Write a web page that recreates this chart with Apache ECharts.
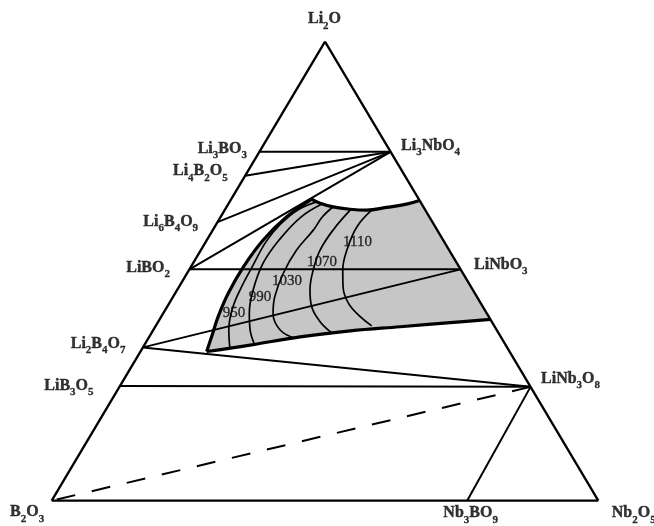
<!DOCTYPE html>
<html>
<head>
<meta charset="utf-8">
<script src="https://cdn.jsdelivr.net/npm/echarts@6/dist/echarts.min.js"></script>
<style>
  html, body { margin: 0; padding: 0; background: #fff; }
  #main { width: 654px; height: 526px; }
</style>
</head>
<body>
<div id="main"></div>
<script>
// compositions in mol%: [name, Li2O, Nb2O5] (rest is B2O3)
var compounds = [
    ['Li2O', 100, 0],
    ['B2O3', 0, 0],
    ['Nb2O5', 0, 100],
    ['Li3BO3', 76, 0],
    ['Li4B2O5', 70.8, 0],
    ['Li6B4O9', 60.7, 0],
    ['LiBO2', 50.4, 0],
    ['Li2B4O7', 33.4, 0],
    ['LiB3O5', 25, 0],
    ['Li3NbO4', 76, 24],
    ['LiNbO3', 50.4, 49.6],
    ['LiNb3O8', 24.8, 75.2],
    ['Nb3BO9', 0, 76]
];

var triangleSides = [['Li2O', 'B2O3'], ['B2O3', 'Nb2O5'], ['Nb2O5', 'Li2O']];

// tie lines between compounds
var tieLines = [
    ['Li3BO3', 'Li3NbO4'],
    ['Li4B2O5', 'Li3NbO4'],
    ['Li6B4O9', 'Li3NbO4'],
    ['LiBO2', 'Li3NbO4'],
    ['LiBO2', 'LiNbO3'],
    ['Li2B4O7', 'LiNbO3'],
    ['Li2B4O7', 'LiNb3O8'],
    ['LiB3O5', 'LiNb3O8'],
    ['LiNb3O8', 'Nb3BO9']
];
var dashedLines = [['LiNb3O8', 'B2O3']];

// LiNbO3 primary field boundary, [Li2O, Nb2O5]
var fieldTop = [[65.7, 14.7], [64.8, 16.7], [64.0, 19.5], [63.5, 22.8], [63.3, 26.0], [63.9, 29.3], [64.6, 32.6], [65.4, 34.6]];
var fieldLeft = [[65.7, 14.7], [61.9, 12.1], [56.8, 10.3], [51.0, 9.6], [45.2, 9.7], [40.1, 10.4], [35.7, 11.4], [32.5, 12.1]];
var fieldBottom = [[32.5, 12.1], [33.9, 19.3], [35.7, 27.6], [37.0, 36.1], [37.9, 44.8], [38.8, 53.5], [39.5, 60.5]];

// isotherms (°C)
var iso950 = [[65.1, 15.9], [63.3, 13.3], [60.2, 11.7], [56.5, 11.0], [51.0, 11.2], [45.9, 11.5], [41.6, 12.2], [37.2, 13.8], [33.2, 16.0]];
var iso990 = [[64.8, 17.3], [61.8, 14.7], [56.8, 13.2], [51.7, 12.8], [45.9, 13.9], [40.9, 15.7], [37.2, 17.7], [33.9, 20.2]];
var iso1030 = [[64.1, 19.5], [61.8, 18.6], [59.0, 18.4], [54.6, 17.5], [49.5, 17.6], [44.4, 18.6], [40.8, 20.1], [37.2, 23.2], [35.4, 26.8]];
var iso1070 = [[63.4, 23.0], [59.0, 22.0], [54.6, 21.8], [50.3, 22.7], [45.9, 24.3], [42.3, 26.4], [39.0, 29.6], [36.6, 32.9]];
var iso1110 = [[63.3, 26.9], [59.7, 26.0], [54.6, 26.7], [50.3, 28.1], [46.6, 30.0], [43.0, 32.8], [40.1, 36.4], [38.1, 39.5]];
var isoLabels = [['950', 40.9, 12.9], ['990', 44.4, 15.9], ['1030', 47.9, 19.1], ['1070', 51.9, 23.5], ['1110', 56.3, 27.8]];

// label placement next to each compound point: [dx, dy, align]
var labelPlace = {
    'Li2O': [0, -22, 'center'],
    'B2O3': [-7, 12, 'right'],
    'Nb2O5': [14, 13, 'left'],
    'Li3BO3': [-12, -3, 'right'],
    'Li4B2O5': [-17, -4, 'right'],
    'Li6B4O9': [-19, 0, 'right'],
    'LiBO2': [-19, -1, 'right'],
    'Li2B4O7': [-17, -3, 'right'],
    'LiB3O5': [-26, 0, 'right'],
    'Li3NbO4': [11, -6, 'left'],
    'LiNbO3': [14, -4, 'left'],
    'LiNb3O8': [11, -8, 'left'],
    'Nb3BO9': [4, 13, 'center']
};

// ternary -> cartesian (x: 0..1 along base, y: Li2O fraction)
function toXY(li, nb) {
    return [nb / 100 + li / 200, li / 100];
}
function conv(list) {
    return list.map(function (p) { return toXY(p[0], p[1]); });
}

var pos = {};
compounds.forEach(function (c) { pos[c[0]] = toXY(c[1], c[2]); });

var FONT = 'Liberation Serif';
var INK = '#000';

function lineSeries(points, width, opts) {
    opts = opts || {};
    return {
        type: 'line',
        data: points,
        symbol: 'none',
        smooth: opts.smooth || false,
        clip: false,
        silent: true,
        z: opts.z || 3,
        lineStyle: { color: INK, width: width, type: opts.type || 'solid' }
    };
}

var series = [];

// shaded field
var outline = conv(fieldTop.concat(fieldBottom.slice().reverse(), fieldLeft.slice().reverse()));
series.push({
    type: 'custom',
    coordinateSystem: 'cartesian2d',
    data: [[0, 0]],
    silent: true,
    z: 1,
    renderItem: function (params, api) {
        return {
            type: 'polygon',
            shape: { points: outline.map(function (p) { return api.coord(p); }) },
            style: { fill: '#c6c6c6' }
        };
    }
});

triangleSides.forEach(function (s) { series.push(lineSeries([pos[s[0]], pos[s[1]]], 2.3)); });
tieLines.forEach(function (s) { series.push(lineSeries([pos[s[0]], pos[s[1]]], 2)); });
dashedLines.forEach(function (s) {
    series.push(lineSeries([pos[s[0]], pos[s[1]]], 2, { type: [19, 17] }));
});

[iso950, iso990, iso1030, iso1070, iso1110].forEach(function (c) {
    series.push(lineSeries(conv(c), 1.7, { smooth: 0.4 }));
});
[fieldTop, fieldLeft, fieldBottom].forEach(function (c) {
    series.push(lineSeries(conv(c), 3.2, { smooth: 0.4, z: 4 }));
});

// compound names with subscripts
function subs(name) {
    return name.replace(/(\d+)/g, '{s|$1}');
}
series.push({
    type: 'scatter',
    symbolSize: 1,
    clip: false,
    silent: true,
    itemStyle: { color: 'rgba(0,0,0,0)' },
    data: compounds.map(function (c) {
        var lp = labelPlace[c[0]];
        return {
            value: pos[c[0]],
            name: c[0],
            label: { position: [lp[0], lp[1]], align: lp[2] }
        };
    }),
    label: {
        show: true,
        verticalAlign: 'middle',
        formatter: function (p) { return subs(p.name); },
        fontFamily: FONT,
        fontSize: 16,
        fontWeight: 'bold',
        lineHeight: 24,
        color: INK,
        textBorderColor: INK,
        textBorderWidth: 0.4,
        rich: {
            s: {
                fontFamily: FONT, fontSize: 11, fontWeight: 'bold', verticalAlign: 'bottom', color: INK,
                textBorderColor: INK, textBorderWidth: 0.3
            }
        }
    },
    z: 6
});

// isotherm values
series.push({
    type: 'scatter',
    symbolSize: 1,
    clip: false,
    silent: true,
    itemStyle: { color: 'rgba(0,0,0,0)' },
    data: isoLabels.map(function (l) { return { value: toXY(l[1], l[2]), name: l[0] }; }),
    label: {
        show: true,
        position: 'inside',
        formatter: '{b}',
        fontFamily: FONT,
        fontSize: 15,
        color: INK,
        textBorderColor: INK,
        textBorderWidth: 0.3
    },
    z: 6
});

var chart = echarts.init(document.getElementById('main'));
chart.setOption({
    animation: false,
    backgroundColor: '#fff',
    grid: { left: 51.7, right: 55.7, top: 41.7, bottom: 25.3 },
    xAxis: { type: 'value', min: 0, max: 1, show: false },
    yAxis: { type: 'value', min: 0, max: 1, show: false },
    series: series
});
</script>
</body>
</html>
